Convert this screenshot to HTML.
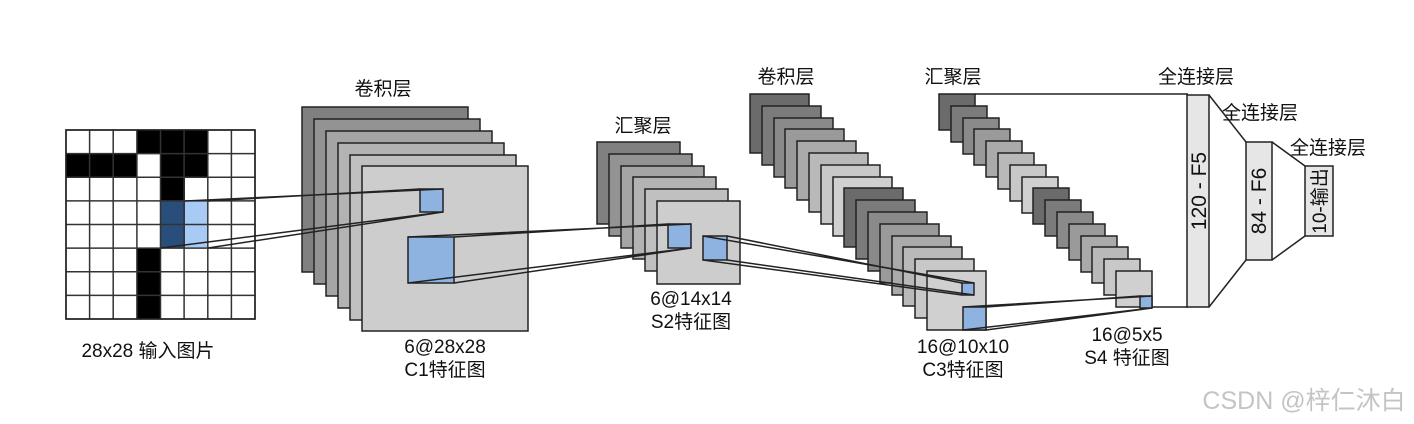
<!DOCTYPE html>
<html><head><meta charset="utf-8"><style>
html,body{margin:0;padding:0;background:#fff;}
svg{display:block;}
text{font-family:"Liberation Sans","Noto Sans CJK SC",sans-serif;font-size:19px;fill:#111;}
</style></head><body>
<svg width="1414" height="424" viewBox="0 0 1414 424" xmlns="http://www.w3.org/2000/svg">
<g stroke="#222" stroke-width="1.5">
<rect x="66" y="130" width="189" height="189" fill="#fff"/>
<g fill="#000" stroke="none">
<rect x="137" y="130" width="71" height="24"/>
<rect x="66" y="154" width="71" height="24"/>
<rect x="161" y="154" width="47" height="24"/>
<rect x="161" y="177" width="24" height="24"/>
<rect x="137" y="248" width="24" height="71"/>
</g>
<rect x="161" y="201" width="24" height="47" fill="#2a4e7c" stroke="none"/>
<rect x="185" y="201" width="23" height="47" fill="#a8cbf5" stroke="none"/>
<path d="M89.6 130V319M113.2 130V319M136.9 130V319M160.5 130V319M184.1 130V319M207.8 130V319M231.4 130V319M66 153.6H255M66 177.2H255M66 200.9H255M66 224.5H255M66 248.1H255M66 271.8H255M66 295.4H255" stroke="#333" fill="none"/>
<rect x="66" y="130" width="189" height="189" fill="none"/>
<rect x="302" y="107" width="166" height="165" fill="#808080"/>
<rect x="314" y="119" width="166" height="165" fill="#939393"/>
<rect x="326" y="131" width="166" height="165" fill="#a5a5a5"/>
<rect x="338" y="143" width="166" height="165" fill="#b3b3b3"/>
<rect x="350" y="155" width="166" height="165" fill="#c0c0c0"/>
<rect x="362" y="166" width="166" height="165" fill="#cdcdcd"/>
<rect x="420" y="189" width="23" height="23" fill="#8fb3e0"/>
<rect x="408" y="237" width="46" height="46" fill="#8fb3e0"/>
<path d="M185 201L443 189M208 201L420 189M161 248L443 212M208 248L443 212" fill="none"/>
<rect x="597" y="142" width="83" height="82" fill="#808080"/>
<rect x="609" y="154" width="83" height="82" fill="#939393"/>
<rect x="621" y="166" width="83" height="82" fill="#a5a5a5"/>
<rect x="633" y="177" width="83" height="82" fill="#b3b3b3"/>
<rect x="645" y="189" width="83" height="82" fill="#c0c0c0"/>
<rect x="657" y="201" width="83" height="83" fill="#cdcdcd"/>
<rect x="668" y="224" width="23" height="24" fill="#8fb3e0"/>
<rect x="703" y="236" width="24" height="24" fill="#8fb3e0"/>
<path d="M408 237L691 224M454 237L668 224M408 283L691 248M454 283L691 248" fill="none"/>
<rect x="750" y="94" width="59" height="59" fill="#6b6b6b"/>
<rect x="762" y="106" width="59" height="59" fill="#7b7b7b"/>
<rect x="774" y="118" width="59" height="59" fill="#8a8a8a"/>
<rect x="785" y="129" width="59" height="59" fill="#9a9a9a"/>
<rect x="797" y="141" width="59" height="59" fill="#aaaaaa"/>
<rect x="809" y="153" width="59" height="59" fill="#b9b9b9"/>
<rect x="821" y="165" width="59" height="59" fill="#c8c8c8"/>
<rect x="833" y="177" width="59" height="59" fill="#d0d0d0"/>
<rect x="844" y="188" width="59" height="59" fill="#6b6b6b"/>
<rect x="856" y="200" width="59" height="59" fill="#7b7b7b"/>
<rect x="868" y="212" width="59" height="59" fill="#8a8a8a"/>
<rect x="880" y="224" width="59" height="59" fill="#9a9a9a"/>
<rect x="892" y="236" width="59" height="59" fill="#aaaaaa"/>
<rect x="903" y="247" width="59" height="59" fill="#b9b9b9"/>
<rect x="915" y="259" width="59" height="59" fill="#c8c8c8"/>
<rect x="927" y="271" width="59" height="59" fill="#d0d0d0"/>
<rect x="962" y="283" width="12" height="12" fill="#8fb3e0"/>
<rect x="963" y="307" width="23" height="23" fill="#8fb3e0"/>
<path d="M703 236L974 283M727 236L962 283M703 260L962 295M727 260L974 295" fill="none"/>
<rect x="939" y="94" width="36" height="36" fill="#6b6b6b"/>
<rect x="951" y="106" width="36" height="36" fill="#7b7b7b"/>
<rect x="963" y="118" width="36" height="36" fill="#8a8a8a"/>
<rect x="974" y="129" width="36" height="36" fill="#9a9a9a"/>
<rect x="986" y="141" width="36" height="36" fill="#aaaaaa"/>
<rect x="998" y="153" width="36" height="36" fill="#b9b9b9"/>
<rect x="1010" y="165" width="36" height="36" fill="#c8c8c8"/>
<rect x="1022" y="177" width="36" height="36" fill="#d0d0d0"/>
<rect x="1033" y="188" width="36" height="36" fill="#6b6b6b"/>
<rect x="1045" y="200" width="36" height="36" fill="#7b7b7b"/>
<rect x="1057" y="212" width="36" height="36" fill="#8a8a8a"/>
<rect x="1069" y="224" width="36" height="36" fill="#9a9a9a"/>
<rect x="1081" y="236" width="36" height="36" fill="#aaaaaa"/>
<rect x="1092" y="247" width="36" height="36" fill="#b9b9b9"/>
<rect x="1104" y="259" width="36" height="36" fill="#c8c8c8"/>
<rect x="1116" y="271" width="36" height="36" fill="#d0d0d0"/>
<rect x="1140" y="296" width="12" height="12" fill="#8fb3e0"/>
<path d="M963 307L1152 296M986 307L1140 296M963 330L1152 308M986 330L1152 308" fill="none"/>
<path d="M975 94H1188M1152 307H1188M1209 95L1246 142M1209 307L1246 260M1272 142L1305 166M1272 260L1305 236" fill="none"/>
<rect x="1187" y="95" width="22" height="212" fill="#e6e6e6"/>
<rect x="1246" y="142" width="26" height="118" fill="#e6e6e6"/>
<rect x="1305" y="166" width="28" height="70" fill="#e6e6e6"/>
</g>
<text x="1206" y="191" text-anchor="middle" transform="rotate(-90 1206 191)" style="font-size:21px">120 - F5</text>
<text x="1266" y="201" text-anchor="middle" transform="rotate(-90 1266 201)" style="font-size:21px">84 - F6</text>
<text x="1326" y="201" text-anchor="middle" transform="rotate(-90 1326 201)" style="font-size:19px">10-输出</text>
<text x="383" y="95" text-anchor="middle">卷积层</text>
<text x="643" y="132" text-anchor="middle">汇聚层</text>
<text x="786" y="83" text-anchor="middle">卷积层</text>
<text x="953" y="83" text-anchor="middle">汇聚层</text>
<text x="1196" y="83" text-anchor="middle">全连接层</text>
<text x="1260" y="119" text-anchor="middle">全连接层</text>
<text x="1328" y="154" text-anchor="middle">全连接层</text>
<text x="148" y="357" text-anchor="middle">28x28 输入图片</text>
<text x="445" y="353" text-anchor="middle">6@28x28</text>
<text x="445" y="376" text-anchor="middle">C1特征图</text>
<text x="691" y="305" text-anchor="middle">6@14x14</text>
<text x="691" y="328" text-anchor="middle">S2特征图</text>
<text x="963" y="353" text-anchor="middle">16@10x10</text>
<text x="963" y="376" text-anchor="middle">C3特征图</text>
<text x="1127" y="341" text-anchor="middle">16@5x5</text>
<text x="1127" y="364" text-anchor="middle">S4 特征图</text>
<text x="1304" y="409" text-anchor="middle" style="font-size:25px;fill:#c4c4c4">CSDN @梓仁沐白</text>
</svg>
</body></html>
